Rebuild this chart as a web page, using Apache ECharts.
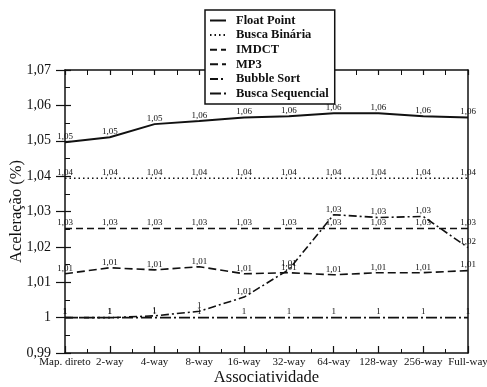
<!DOCTYPE html>
<html><head><meta charset="utf-8">
<script src="https://cdn.jsdelivr.net/npm/echarts@6/dist/echarts.min.js"></script>
<style>html,body{margin:0;padding:0;background:#fff}#c{width:487px;height:387px}</style>
</head><body><div id="c"></div>
<script>
const categories = ['Map. direto','2-way','4-way','8-way','16-way','32-way','64-way','128-way','256-way','Full-way'];
const seriesNames = ['Float Point','Busca Binária','IMDCT','MP3','Bubble Sort','Busca Sequencial'];
const floatPoint = [1.0496, 1.0510, 1.0547, 1.0556, 1.0566, 1.0569, 1.0578, 1.0578, 1.0569, 1.0566];
const buscaBinaria = [1.0394, 1.0394, 1.0394, 1.0394, 1.0394, 1.0394, 1.0394, 1.0394, 1.0394, 1.0394];
const imdct = [1.0252, 1.0252, 1.0252, 1.0252, 1.0252, 1.0252, 1.0252, 1.0252, 1.0252, 1.0252];
const mp3 = [1.0124, 1.0141, 1.0135, 1.0144, 1.0124, 1.0127, 1.0121, 1.0127, 1.0127, 1.0133];
const bubbleSort = [1.0, 1.0, 1.0005, 1.0018, 1.0058, 1.0136, 1.0291, 1.0283, 1.0286, 1.0198];
const buscaSequencial = [1.0, 1.0, 1.0, 1.0, 1.0, 1.0, 1.0, 1.0, 1.0, 1.0];
const yMin = 0.99, yMax = 1.07, yStep = 0.01;

const fmt = v => String(parseFloat(Number(v).toFixed(2))).replace('.', ',');
const FONT = '"Liberation Serif","DejaVu Serif",serif';
const dashes = [null, [1.5,3], [7,4], [8,4], [8,3,2,3], [11,3,2,3]];
const values = [floatPoint, buscaBinaria, imdct, mp3, bubbleSort, buscaSequencial];

const chart = echarts.init(document.getElementById('c'), null, {renderer:'canvas'});
const series = seriesNames.map((name, k) => ({
  name, type:'line', yAxisIndex:0, xAxisIndex:0,
  data: values[k].map((v,i)=>[i,v]),
  symbol:'circle', symbolSize:0.01, showSymbol:true,
  lineStyle:{color:'#111', width: k===0 ? 2 : 1.6, type: dashes[k] || 'solid'},
  itemStyle:{color:'#111'},
  label:{show:true, position:'top', distance:1, fontFamily:FONT, fontSize:9, color:'#111',
    formatter: p => fmt(p.value[1])},
  emphasis:{disabled:true}, animation:false, z:3
}));

chart.setOption({
  backgroundColor:'#fff',
  animation:false,
  grid:{left:65, right:19, top:70, bottom:34, containLabel:false, outerBoundsMode:'none'},
  legend:{
    orient:'vertical', left:205, top:10, z:10,
    data: seriesNames,
    itemWidth:16, itemHeight:10, itemGap:1.6,
    itemStyle:{opacity:0, borderWidth:0},
    padding:[4,6,4,4],
    backgroundColor:'#fff', borderColor:'#111', borderWidth:1.5,
    textStyle:{fontFamily:FONT, fontSize:12.5, fontWeight:'bold', color:'#111', padding:[0,0,0,5]}
  },
  xAxis:[
    {type:'value', position:'bottom', min:0, max:categories.length-1, interval:1,
     axisLine:{show:true, onZero:false, lineStyle:{color:'#111', width:1.5}},
     axisTick:{show:true, inside:true, length:7, lineStyle:{color:'#111', width:1.2}},
     minorTick:{show:true, splitNumber:2, length:4, lineStyle:{color:'#111', width:1}},
     splitLine:{show:false}, minorSplitLine:{show:false},
     axisLabel:{formatter: v => categories[v] || '', fontFamily:FONT, fontSize:11, color:'#111', margin:4},
     name:'Associatividade', nameLocation:'middle', nameGap:16, nameMoveOverlap:false,
     nameTextStyle:{fontFamily:FONT, fontSize:16.5, color:'#111'}},
    {type:'value', position:'top', min:0, max:categories.length-1, interval:1,
     axisLine:{show:true, onZero:false, lineStyle:{color:'#111', width:1.5}},
     axisTick:{show:true, inside:true, length:5, lineStyle:{color:'#111', width:1.2}},
     minorTick:{show:true, splitNumber:2, length:5, lineStyle:{color:'#111', width:1}},
     splitLine:{show:false}, minorSplitLine:{show:false}, axisLabel:{show:false}}
  ],
  yAxis:[
    {type:'value', position:'left', min:yMin, max:yMax, interval:yStep,
     axisLine:{show:true, onZero:false, lineStyle:{color:'#111', width:1.5}},
     axisTick:{show:true, inside:false, length:9, lineStyle:{color:'#111', width:1.2}},
     splitLine:{show:false},
     axisLabel:{formatter: fmt, fontFamily:FONT, fontSize:14, color:'#111', margin:14},
     name:'Aceleração (%)', nameLocation:'middle', nameGap:40, nameRotate:90, nameMoveOverlap:false,
     nameTextStyle:{fontFamily:FONT, fontSize:16.5, color:'#111'}},
    {type:'value', position:'left', min:yMin, max:yMax, interval:yStep,
     axisLine:{show:false}, axisLabel:{show:false}, splitLine:{show:false},
     axisTick:{show:true, inside:true, length:6, lineStyle:{color:'#111', width:1.2}},
     minorTick:{show:true, splitNumber:2, length:5, lineStyle:{color:'#111', width:1}},
     minorSplitLine:{show:false}},
    {type:'value', position:'right', min:yMin, max:yMax, interval:yStep,
     axisLine:{show:true, onZero:false, lineStyle:{color:'#111', width:1.5}},
     axisTick:{show:false}, axisLabel:{show:false}, splitLine:{show:false}}
  ],
  series
});
</script></body></html>
